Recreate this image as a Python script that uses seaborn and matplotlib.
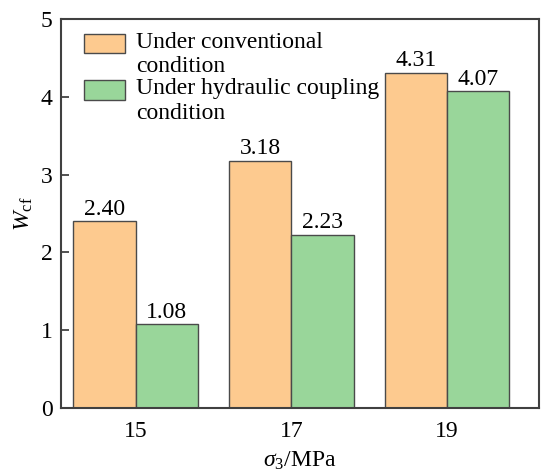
import matplotlib
matplotlib.use("Agg")
import matplotlib.pyplot as plt
from matplotlib.patches import Rectangle
from matplotlib.legend_handler import HandlerPatch
import seaborn as sns
import pandas as pd

# Confining pressure levels and the W_cf values under each condition
sigma3 = ["15", "17", "19"]
conventional = [2.40, 3.18, 4.31]
hydraulic = [1.08, 2.23, 4.07]
conditions = ["Under conventional\ncondition", "Under hydraulic coupling\ncondition"]
colors = ["#FDCA8F", "#99D69A"]

df = pd.DataFrame({
    "sigma3": sigma3 * 2,
    "W": conventional + hydraulic,
    "condition": [conditions[0]] * 3 + [conditions[1]] * 3,
})

FS = 17

sns.set_theme(style="white")
plt.rcParams["font.family"] = ["Liberation Serif", "DejaVu Serif"]
plt.rcParams["mathtext.fontset"] = "custom"
plt.rcParams["mathtext.rm"] = "Liberation Serif"
plt.rcParams["mathtext.it"] = "Liberation Serif:italic"
plt.rcParams["text.color"] = "black"
plt.rcParams["axes.labelcolor"] = "black"
plt.rcParams["xtick.color"] = "black"
plt.rcParams["ytick.color"] = "black"

fig = plt.figure(figsize=(5.43, 4.75), dpi=100)
ax = fig.add_axes([0.1123, 0.141, 0.8803, 0.819])

sns.barplot(data=df, x="sigma3", y="W", hue="condition", palette=colors,
            saturation=1, width=0.8, edgecolor="#4a4a4a", linewidth=1.0,
            ax=ax, legend=True)

for cont in ax.containers:
    ax.bar_label(cont, fmt="%.2f", padding=1, fontsize=FS, color="black")

ax.set_ylim(0, 5)
ax.set_xlim(-0.48, 2.59)
ax.set_yticks([0, 1, 2, 3, 4, 5])
ax.tick_params(axis="y", direction="in", length=6, width=1.2, left=True,
               labelsize=FS, pad=6, color="#333333")
ax.tick_params(axis="x", length=0, labelsize=FS, pad=9)
for s in ax.spines.values():
    s.set_visible(True)
    s.set_color("#404040")
    s.set_linewidth(1.5)

ax.set_xlabel(r"$\sigma_3$/MPa", fontsize=FS, labelpad=6)
ax.set_ylabel(r"$W_{\rm cf}$", fontsize=FS, labelpad=4)


class TopPatchHandler(HandlerPatch):
    """Draws the legend swatch aligned with the first line of a two-line label."""
    def create_artists(self, legend, orig_handle, xdescent, ydescent,
                       width, height, fontsize, trans):
        h = 0.83 * fontsize
        p = Rectangle((-xdescent, -ydescent + height - h + 0.12 * fontsize), width, h,
                      facecolor=orig_handle.get_facecolor(),
                      edgecolor="#4a4a4a", linewidth=1.0, transform=trans)
        return [p]


handles, labels = ax.get_legend_handles_labels()
ax.legend(handles, labels, loc="upper left", bbox_to_anchor=(0.028, 0.992),
          frameon=False, fontsize=FS, handlelength=1.75, handleheight=2.0,
          handletextpad=0.45, labelspacing=0.07, borderaxespad=0,
          handler_map={Rectangle: TopPatchHandler()})
leg = ax.get_legend()
for t in leg.get_texts():
    t.set_linespacing(1.2)

fig.savefig("out.png", dpi=100)
